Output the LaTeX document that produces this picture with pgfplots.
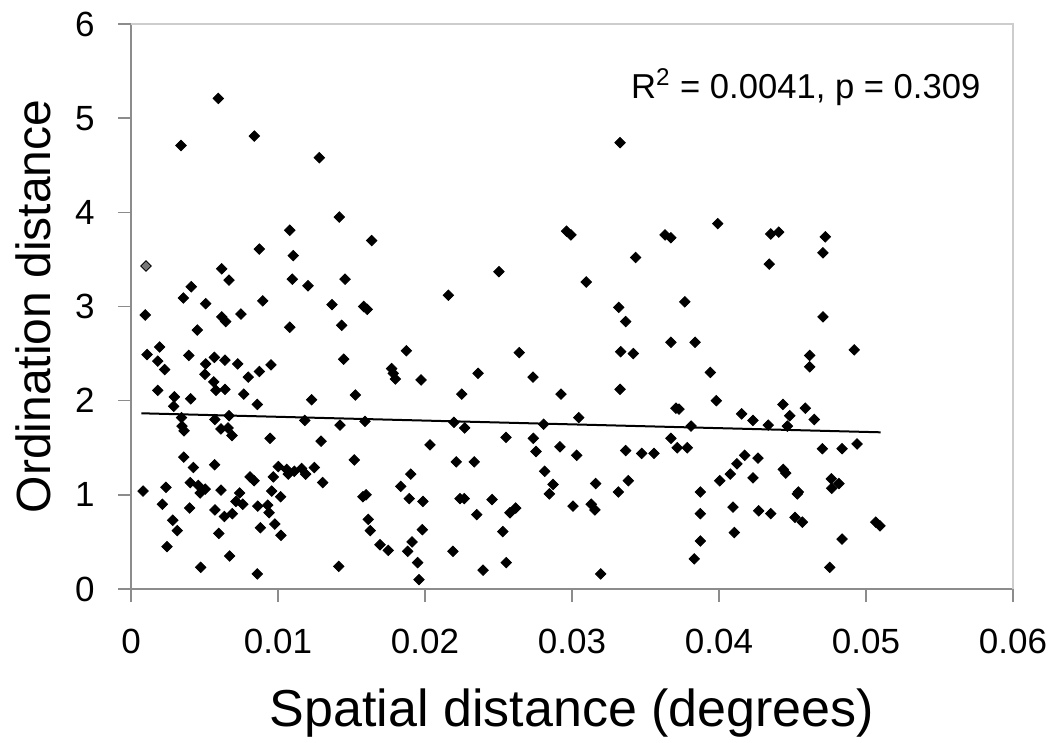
\documentclass[border=0pt]{standalone}
\usepackage{pgfplots}
\pgfplotsset{compat=1.18}
\usepackage{pgfplotstable}
\usepackage{fontspec}
\setmainfont{Liberation Sans}
\usetikzlibrary{calc}
\definecolor{axgray}{RGB}{140,140,140}
\definecolor{boxgray}{RGB}{205,205,205}
\definecolor{ptgray}{RGB}{120,120,120}

\pgfplotstableread{
x y
0.00594 5.21
0.00340 4.71
0.00839 4.81
0.01281 4.58
0.01417 3.95
0.01080 3.81
0.01637 3.70
0.00873 3.61
0.01104 3.54
0.03327 4.74
0.02963 3.80
0.02993 3.76
0.03991 3.88
0.03633 3.76
0.03673 3.73
0.04352 3.77
0.04406 3.79
0.04723 3.74
0.04707 3.57
0.03433 3.52
0.00617 3.40
0.00667 3.28
0.01097 3.29
0.01204 3.22
0.01456 3.29
0.00410 3.21
0.00356 3.09
0.00508 3.03
0.00896 3.06
0.01367 3.02
0.01583 3.00
0.01607 2.97
0.00097 2.91
0.00617 2.89
0.00644 2.84
0.00748 2.92
0.00451 2.75
0.01080 2.78
0.01433 2.80
0.00109 2.49
0.00195 2.57
0.00182 2.42
0.00229 2.33
0.00393 2.48
0.00508 2.39
0.00567 2.46
0.00639 2.43
0.00726 2.39
0.00503 2.28
0.00563 2.20
0.00578 2.11
0.00639 2.12
0.00798 2.25
0.00873 2.31
0.00952 2.38
0.01447 2.44
0.00182 2.11
0.00295 2.04
0.00290 1.94
0.00406 2.02
0.00767 2.07
0.00859 1.96
0.01229 2.01
0.01526 2.06
0.00344 1.82
0.00347 1.73
0.00361 1.68
0.00571 1.80
0.00667 1.84
0.00612 1.70
0.00660 1.71
0.00687 1.63
0.01182 1.79
0.01422 1.74
0.01592 1.78
0.00946 1.60
0.01293 1.57
0.00359 1.40
0.00424 1.29
0.00569 1.32
0.01519 1.37
0.01002 1.30
0.01059 1.27
0.01070 1.22
0.01111 1.25
0.01161 1.28
0.01188 1.22
0.01247 1.29
0.00810 1.19
0.00837 1.15
0.00968 1.19
0.01304 1.13
0.00082 1.04
0.00238 1.08
0.00403 1.13
0.00458 1.10
0.00471 1.02
0.00505 1.06
0.00612 1.05
0.00739 1.02
0.00957 1.04
0.01018 0.98
0.00714 0.93
0.00760 0.90
0.00213 0.90
0.00399 0.86
0.00571 0.84
0.00635 0.77
0.00689 0.80
0.00862 0.88
0.00930 0.89
0.00939 0.81
0.01578 0.98
0.01599 1.00
0.00284 0.73
0.00315 0.62
0.00597 0.59
0.00880 0.65
0.00978 0.69
0.01020 0.57
0.01614 0.74
0.01628 0.62
0.01694 0.47
0.00245 0.45
0.00671 0.35
0.00474 0.23
0.00859 0.16
0.01413 0.24
0.02503 3.37
0.02159 3.12
0.03097 3.26
0.03318 2.99
0.03365 2.84
0.01873 2.53
0.02641 2.51
0.03331 2.52
0.03417 2.50
0.01773 2.34
0.01784 2.29
0.01798 2.23
0.01973 2.22
0.02361 2.29
0.02735 2.25
0.02250 2.07
0.02925 2.07
0.03327 2.12
0.03046 1.82
0.02197 1.77
0.02270 1.71
0.02807 1.75
0.02551 1.61
0.02737 1.60
0.02034 1.53
0.02755 1.46
0.02918 1.51
0.03032 1.42
0.03365 1.47
0.02213 1.35
0.02335 1.35
0.01903 1.22
0.02814 1.25
0.01835 1.09
0.01893 0.96
0.01986 0.93
0.02238 0.96
0.02267 0.96
0.02456 0.95
0.02871 1.11
0.02846 1.01
0.03161 1.12
0.03315 1.03
0.03383 1.15
0.03007 0.88
0.03131 0.90
0.03156 0.84
0.02352 0.79
0.02578 0.81
0.02617 0.86
0.01982 0.63
0.02529 0.61
0.01750 0.41
0.01912 0.50
0.01882 0.40
0.02190 0.40
0.01950 0.28
0.02553 0.28
0.02395 0.20
0.01959 0.10
0.03195 0.16
0.04342 3.45
0.03767 3.05
0.04707 2.89
0.03673 2.62
0.03837 2.62
0.04920 2.54
0.04617 2.48
0.04617 2.36
0.03941 2.30
0.03982 2.00
0.03707 1.92
0.03728 1.91
0.04154 1.86
0.04231 1.79
0.04435 1.96
0.04481 1.84
0.04587 1.92
0.04648 1.80
0.03810 1.73
0.04335 1.74
0.04465 1.73
0.03673 1.60
0.03716 1.50
0.03784 1.50
0.03474 1.44
0.03558 1.44
0.04175 1.42
0.04265 1.39
0.04122 1.33
0.04077 1.22
0.04005 1.15
0.04231 1.18
0.04437 1.27
0.04454 1.23
0.04703 1.49
0.04837 1.49
0.04939 1.54
0.04764 1.17
0.04816 1.12
0.04767 1.07
0.03873 1.03
0.03873 0.80
0.03873 0.51
0.03832 0.32
0.04095 0.87
0.04104 0.60
0.04270 0.83
0.04352 0.80
0.04540 1.03
0.04533 1.01
0.04517 0.76
0.04567 0.71
0.04837 0.53
0.04753 0.23
0.05066 0.71
0.05095 0.67
}\pointsblack

\pgfplotstableread{
x y
0.00102 3.43
}\pointsgray

\begin{document}
\begin{tikzpicture}
\begin{axis}[
  name=ax,
  scale only axis,
  width=441pt, height=282.5pt,
  xmin=0, xmax=0.06, ymin=0, ymax=6,
  scaled x ticks=false, scaled y ticks=false,
  xtick={0,0.01,0.02,0.03,0.04,0.05,0.06},
  xticklabels={0,0.01,0.02,0.03,0.04,0.05,0.06},
  ytick={0,1,2,3,4,5,6},
  yticklabels={0,1,2,3,4,5,6},
  axis x line*=bottom, axis y line*=left,
  axis line style={axgray, line width=0.7pt},
  tick align=outside,
  major tick length=6.5pt,
  tick style={axgray, line width=0.7pt},
  tick label style={font=\fontsize{17.5}{20}\selectfont, text=black},
  xticklabel style={anchor=base, yshift=-25.5pt},
  yticklabel style={anchor=east, inner sep=0pt, xshift=-11.5pt},
  xlabel={Spatial distance (degrees)},
  ylabel={Ordination distance},
  xlabel style={font=\fontsize{26}{30}\selectfont, at={(axis description cs:0.5,-0.2425)}, anchor=base},
  ylabel style={font=\fontsize{24}{30}\selectfont, at={(axis description cs:-0.0918,0.5)}, anchor=base, rotate=0},
  clip=false,
]
\draw[boxgray, line width=0.6pt] (rel axis cs:0,1) -- (rel axis cs:1,1) -- (rel axis cs:1,0);
\addplot[only marks, mark=square*, mark size=1.85pt, mark options={rotate=45, fill=black, draw=none}] table[x=x,y=y] {\pointsblack};
\addplot[only marks, mark=square*, mark size=1.85pt, mark options={rotate=45, fill=ptgray, draw=none}] table[x=x,y=y] {\pointsgray};
\addplot[black, line width=1pt] coordinates {(0.0007,1.866) (0.051,1.664)};
\node[anchor=base, inner sep=0pt, font=\fontsize{17.3}{20}\selectfont] at (axis cs:0.0459,5.21) {R\textsuperscript{2} = 0.0041, p = 0.309};
\end{axis}
\pgfresetboundingbox
\path ($(ax.south west)+(-65.5pt,-76.5pt)$) rectangle ($(ax.north east)+(20.5pt,12pt)$);
\end{tikzpicture}
\end{document}
